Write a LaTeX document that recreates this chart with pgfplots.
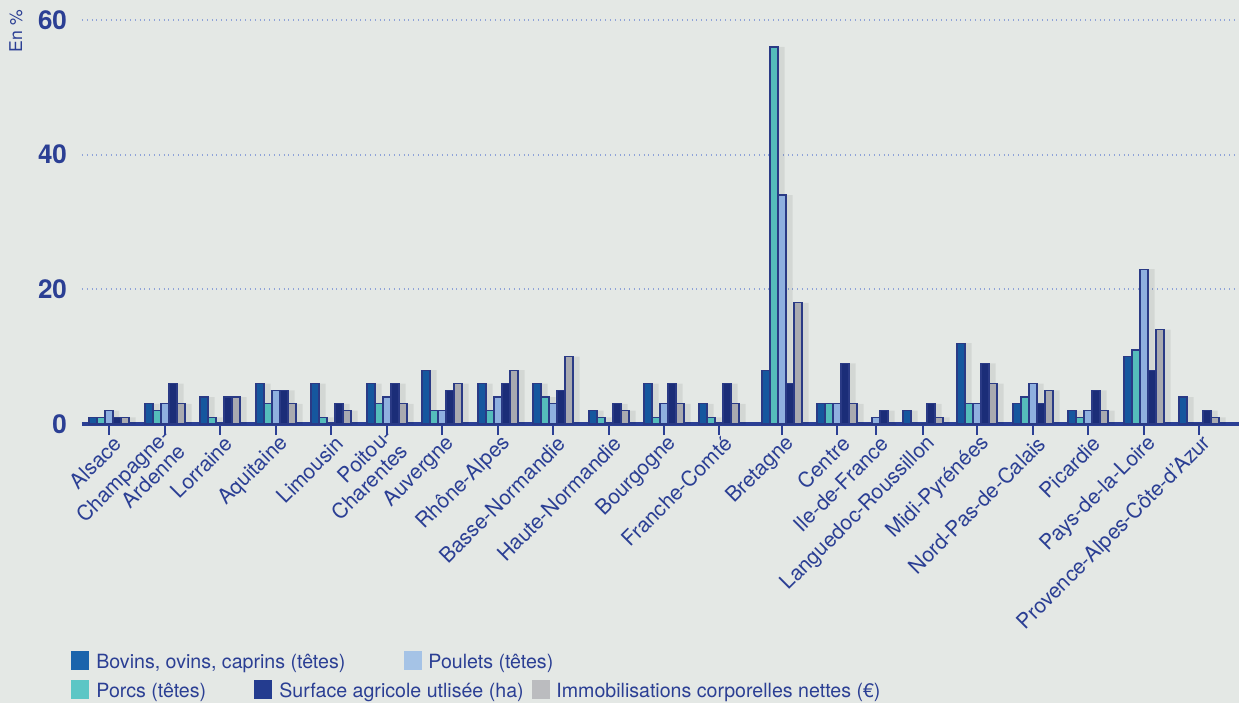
\documentclass[border=0pt]{standalone}
\usepackage{pgfplots}
\usepackage{pgfplotstable}
\pgfplotsset{compat=1.18}
\usepackage{fontspec}
\setmainfont{TeX Gyre Heros}

\definecolor{bg}{HTML}{E4E8E5}
\definecolor{txt}{HTML}{2B3F94}
\definecolor{gridc}{HTML}{8FA3D8}
\definecolor{cbov}{HTML}{15579E}
\definecolor{cpor}{HTML}{55BDBB}
\definecolor{cpou}{HTML}{8FB0DF}
\definecolor{csur}{HTML}{1B2D78}
\definecolor{cimm}{HTML}{A9AAB0}
\definecolor{lbov}{HTML}{1A64AC}
\definecolor{lpor}{HTML}{5CC6C5}
\definecolor{lpou}{HTML}{A5C3E6}
\definecolor{lsur}{HTML}{243C8F}
\definecolor{limm}{HTML}{BBBCBF}
\definecolor{outl}{HTML}{2A3A85}

% x = group centre (px), shares in %
\pgfplotstableread{
x    bov porcs poulets surf immo
109  1   1     2       1    1
165  3   2     3       6    3
220  4   1     0       4    4
276  6   3     5       5    3
331  6   1     0       3    2
387  6   3     4       6    3
442  8   2     2       5    6
498  6   2     4       6    8
553  6   4     3       5    10
609  2   1     0       3    2
664  6   1     3       6    3
719  3   1     0       6    3
782  8   56    34      6    18
837  3   3     3       9    3
876  0   0     1       2    0
923  2   0     0       3    1
977  12  3     3       9    6
1033 3   4     6       3    5
1088 2   1     2       5    2
1144 10  11    23      8    14
1199 4   0     0       2    1
}\regions

\begin{document}
\begin{tikzpicture}[x=0.5pt,y=0.5pt]
\fill[bg] (0,0) rectangle (1239,703);
\begin{axis}[
  at={(41pt,139.5pt)}, anchor=south west,
  scale only axis, width=578.5pt, height=202pt,
  xmin=82, xmax=1239, ymin=0, ymax=60,
  axis x line*=bottom, axis y line*=left,
  x axis line style={draw=txt, line width=2pt},
  y axis line style={draw=none},
  ytick={0,20,40,60}, yticklabels={0,20,40,60},
  ymajorgrids, grid style={dotted, draw=gridc, line width=1pt},
  ytick style={draw=none},
  yticklabel style={font=\bfseries\fontsize{13}{15}\selectfont, text=txt, xshift=1.5pt},
  xtick={109,165,220,276,331,387,442,498,553,609,664,719,782,837,876,923,977,1033,1088,1144,1199},
  xticklabels={Alsace,{Champagne-\\Ardenne},Lorraine,Aquitaine,Limousin,{Poitou-\\Charentes},Auvergne,Rhône-Alpes,Basse-Normandie,Haute-Normandie,Bourgogne,Franche-Comté,Bretagne,Centre,Ile-de-France,Languedoc-Roussillon,Midi-Pyrénées,Nord-Pas-de-Calais,Picardie,Pays-de-la-Loire,Provence-Alpes-Côte-d’Azur},
  xticklabel style={rotate=45, anchor=east, align=right, font=\fontsize{10.5}{11}\selectfont, text=txt, inner sep=1pt, xshift=2.5pt, yshift=-5pt},
  tick align=outside, major tick length=5.5pt,
  xtick style={draw=txt, line width=1pt},
  every axis plot/.append style={ybar, bar width=8},
]
% soft shadows
\addplot[fill=black, opacity=0.07, draw=none, bar width=11, bar shift=-11] table[x=x,y=bov] {\regions};
\addplot[fill=black, opacity=0.07, draw=none, bar width=11, bar shift=-3] table[x=x,y=porcs] {\regions};
\addplot[fill=black, opacity=0.07, draw=none, bar width=11, bar shift=5] table[x=x,y=poulets] {\regions};
\addplot[fill=black, opacity=0.07, draw=none, bar width=11, bar shift=13] table[x=x,y=surf] {\regions};
\addplot[fill=black, opacity=0.07, draw=none, bar width=11, bar shift=21] table[x=x,y=immo] {\regions};
% bars
\addplot[fill=cbov, draw=outl, line width=0.6pt, bar shift=-16] table[x=x,y=bov] {\regions};
\addplot[fill=cpor, draw=outl, line width=0.6pt, bar shift=-8] table[x=x,y=porcs] {\regions};
\addplot[fill=cpou, draw=outl, line width=0.6pt, bar shift=0] table[x=x,y=poulets] {\regions};
\addplot[fill=csur, draw=outl, line width=0.6pt, bar shift=8] table[x=x,y=surf] {\regions};
\addplot[fill=cimm, draw=outl, line width=0.6pt, bar shift=16] table[x=x,y=immo] {\regions};
\end{axis}

\node[rotate=90, text=txt, font=\fontsize{8.8}{10}\selectfont] at (16,672) {En \%};

\begin{scope}[every node/.style={anchor=base west, inner sep=0pt, text=txt, font=\fontsize{9.8}{11}\selectfont}]
\fill[lbov] (71,33) rectangle (89,52);
\node at (96,35) {Bovins, ovins, caprins (têtes)};
\fill[lpou] (404,33) rectangle (422,52);
\node at (428,35) {Poulets (têtes)};
\fill[lpor] (71,4) rectangle (89,23);
\node at (96,6) {Porcs (têtes)};
\fill[lsur] (254,4) rectangle (272,23);
\node at (279,6) {Surface agricole utlisée (ha)};
\fill[limm] (532,4) rectangle (550,23);
\node at (556,6) {Immobilisations corporelles nettes (€)};
\end{scope}

\pgfresetboundingbox
\path[use as bounding box] (0,0) rectangle (1239,703);
\end{tikzpicture}
\end{document}
